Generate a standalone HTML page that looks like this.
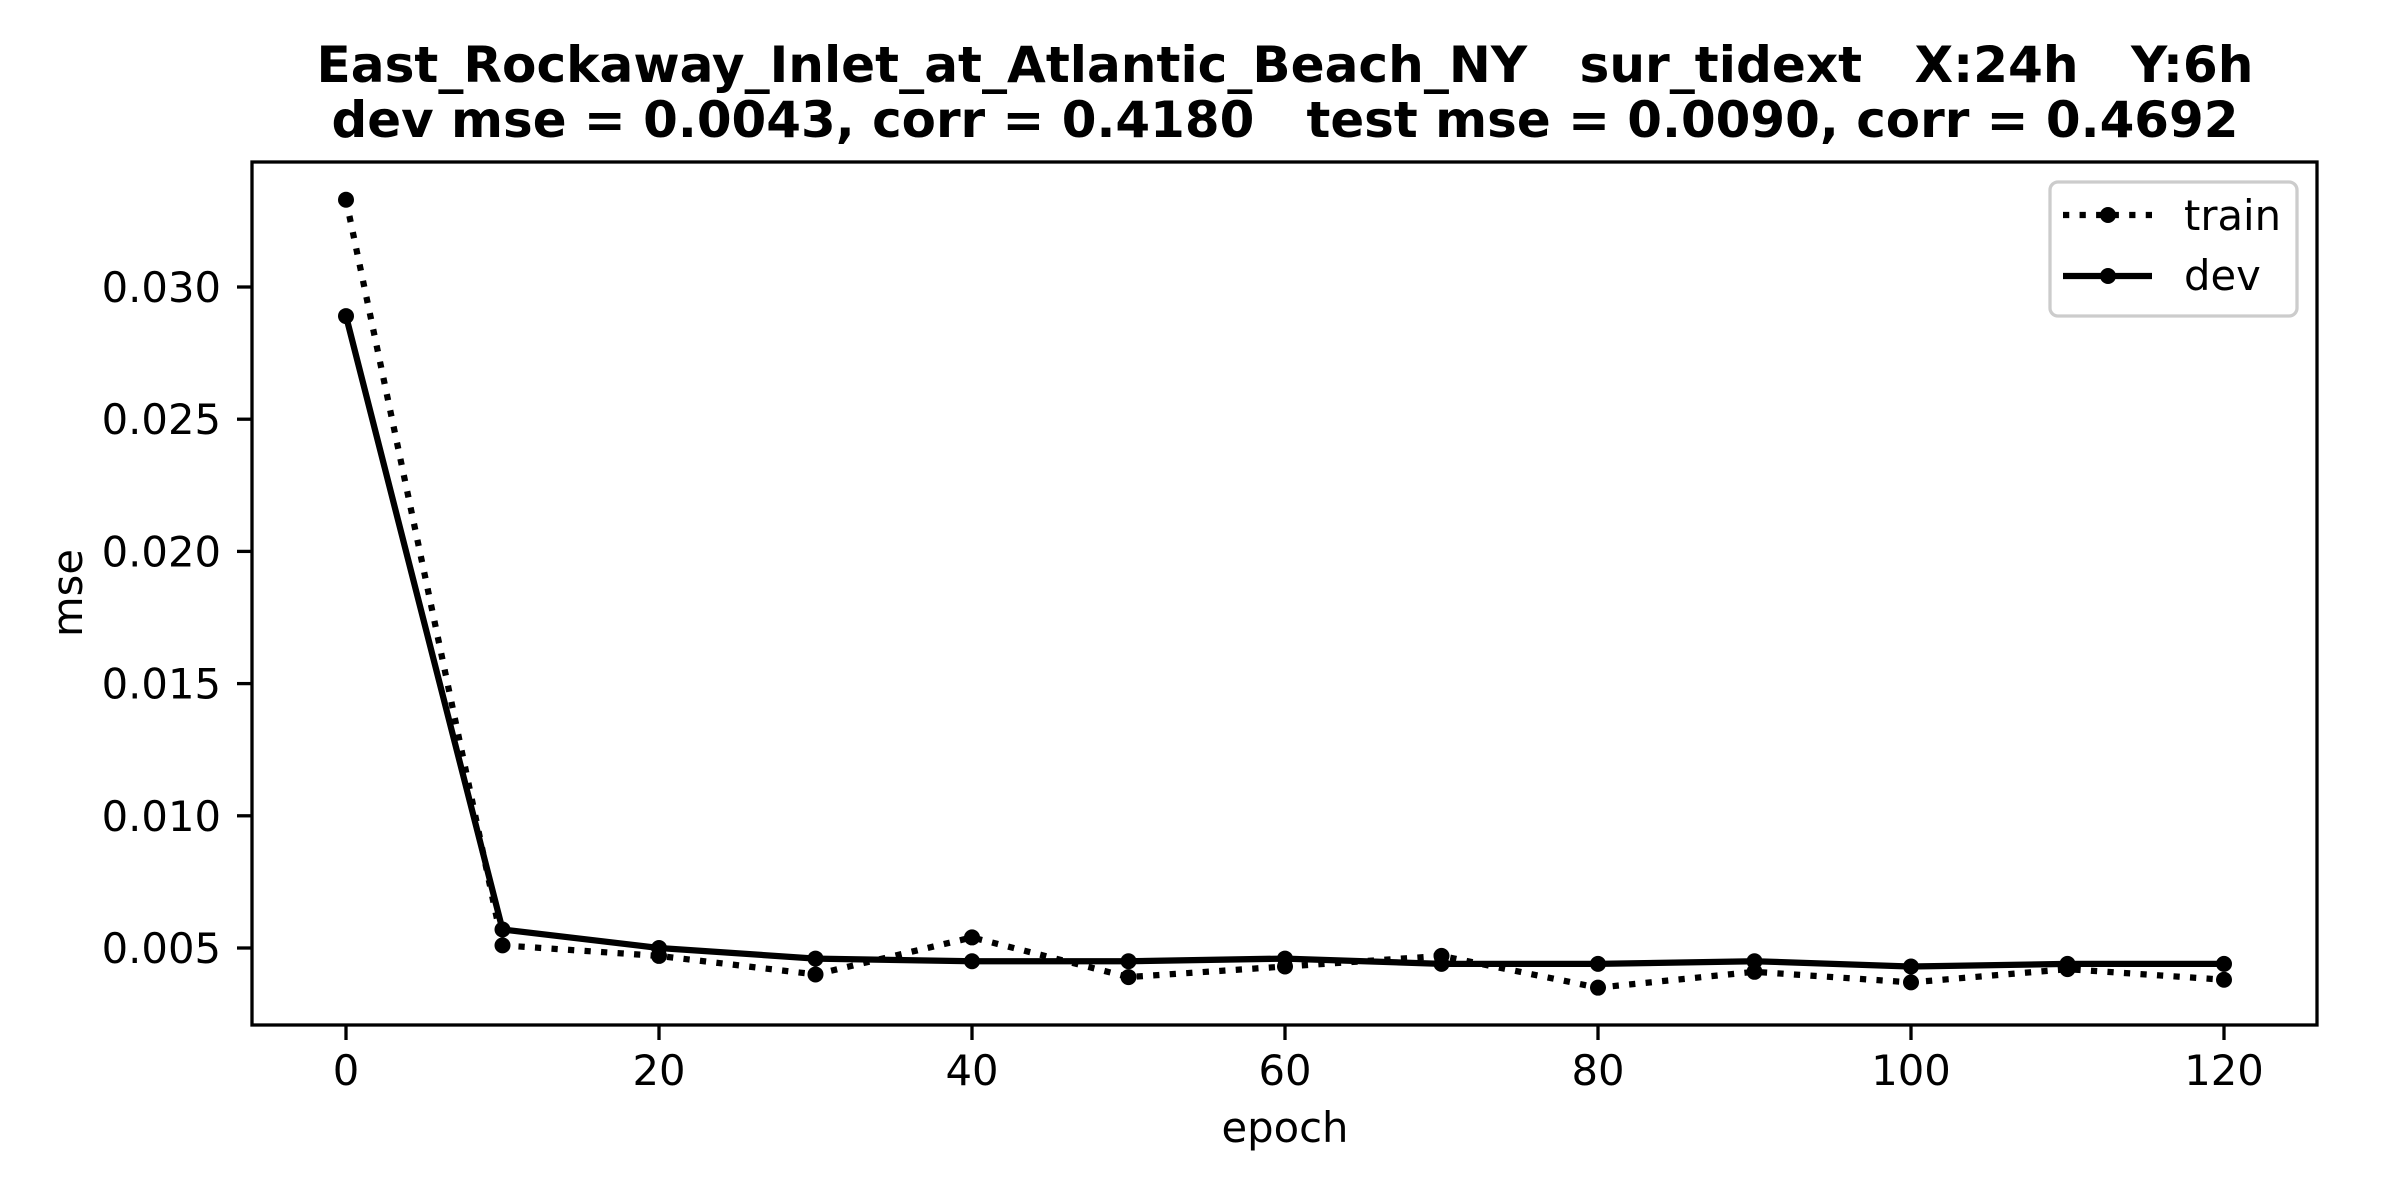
<!DOCTYPE html>
<html><head><meta charset="utf-8"><style>
html,body{margin:0;padding:0;background:#fff;}
svg{display:block;font-family:"DejaVu Sans","Liberation Sans",sans-serif;}
</style></head><body>
<svg id="chart" width="2400" height="1200" viewBox="0 0 2400 1200" xmlns="http://www.w3.org/2000/svg">
<rect width="2400" height="1200" fill="#fff"/>
<text x="1285" y="82" font-size="50" font-weight="bold" text-anchor="middle" textLength="1937" lengthAdjust="spacingAndGlyphs" xml:space="preserve">East_Rockaway_Inlet_at_Atlantic_Beach_NY   sur_tidext   X:24h   Y:6h</text>
<text x="1285" y="137" font-size="50" font-weight="bold" text-anchor="middle" textLength="1907" lengthAdjust="spacingAndGlyphs" xml:space="preserve">dev mse = 0.0043, corr = 0.4180   test mse = 0.0090, corr = 0.4692</text>
<g id="xticks"></g>
<g id="yticks"></g>
<g id="series"></g>
<rect x="252" y="162" width="2065" height="863" fill="none" stroke="#000" stroke-width="3.3"/>
<text x="1285" y="1142" font-size="41.7" text-anchor="middle">epoch</text>
<text x="0" y="0" font-size="41.7" text-anchor="middle" transform="translate(82,593) rotate(-90)">mse</text>
<g>
<rect x="2050" y="182" width="247" height="134" rx="8" fill="#fff" fill-opacity="0.8" stroke="#cccccc" stroke-width="3.3"/>
<g>
<line x1="2063" y1="215" x2="2152" y2="215" stroke="#000" stroke-width="6.25" stroke-dasharray="6.25 10.3"/>
<circle cx="2108" cy="215" r="8" fill="#000"/>
<text x="2184" y="230" font-size="41.7">train</text>
</g>
<g>
<line x1="2063" y1="276" x2="2152" y2="276" stroke="#000" stroke-width="6.25"/>
<circle cx="2108" cy="276" r="8" fill="#000"/>
<text x="2184" y="290" font-size="41.7">dev</text>
</g>
</g>
</svg>
<script>
const epochs = [0,10,20,30,40,50,60,70,80,90,100,110,120];
const trainMse = [0.0333,0.0051,0.0047,0.0040,0.0054,0.0039,0.0043,0.0047,0.0035,0.0041,0.0037,0.0042,0.0038];
const devMse = [0.0289,0.0057,0.0050,0.0046,0.0045,0.0045,0.0046,0.0044,0.0044,0.0045,0.0043,0.0044,0.0044];
const xTickValues = [0,20,40,60,80,100,120];
const yTickValues = [0.005,0.010,0.015,0.020,0.025,0.030];
const yTickLabels = ["0.005","0.010","0.015","0.020","0.025","0.030"];

const NS = "http://www.w3.org/2000/svg";
function xScale(v){ return 346 + v * 15.65; }
function yScale(v){ return 948 - (v - 0.005) / 0.005 * 132.2; }
function mk(tag, attrs, parent){
  const e = document.createElementNS(NS, tag);
  for (const k in attrs) e.setAttribute(k, attrs[k]);
  parent.appendChild(e); return e;
}
const xt = document.getElementById('xticks');
xTickValues.forEach(v => {
  const g = mk('g', {}, xt);
  
  
  const x = xScale(v);
  mk('line', {x1:x, y1:1025, x2:x, y2:1040, stroke:'#000', 'stroke-width':3.3}, g);
  const t = mk('text', {x:x, y:1085, 'font-size':41.7, 'text-anchor':'middle'}, g);
  t.textContent = String(v);
});
const yt = document.getElementById('yticks');
yTickValues.forEach((v, i) => {
  const g = mk('g', {}, yt);
  
  
  const y = yScale(v);
  mk('line', {x1:237, y1:y, x2:252, y2:y, stroke:'#000', 'stroke-width':3.3}, g);
  const t = mk('text', {x:221, y:y + 15, 'font-size':41.7, 'text-anchor':'end'}, g);
  t.textContent = yTickLabels[i];
});
const sg = document.getElementById('series');
function drawSeries(vals, name, dash){
  const g = mk('g', {}, sg);
  
  
  const pts = vals.map((v, i) => xScale(epochs[i]) + ',' + yScale(v)).join(' ');
  const attrs = {points:pts, fill:'none', stroke:'#000', 'stroke-width':6.25, 'stroke-linejoin':'round'};
  if (dash) attrs['stroke-dasharray'] = dash;
  const pl = mk('polyline', attrs, g);
  
  
  vals.forEach((v, i) => {
    const c = mk('circle', {cx:xScale(epochs[i]), cy:yScale(v), r:8, fill:'#000'}, g);
    
    
  });
}
drawSeries(trainMse, 'train-series', '6.25 10.3');
drawSeries(devMse, 'dev-series', null);
</script>
</body></html>
